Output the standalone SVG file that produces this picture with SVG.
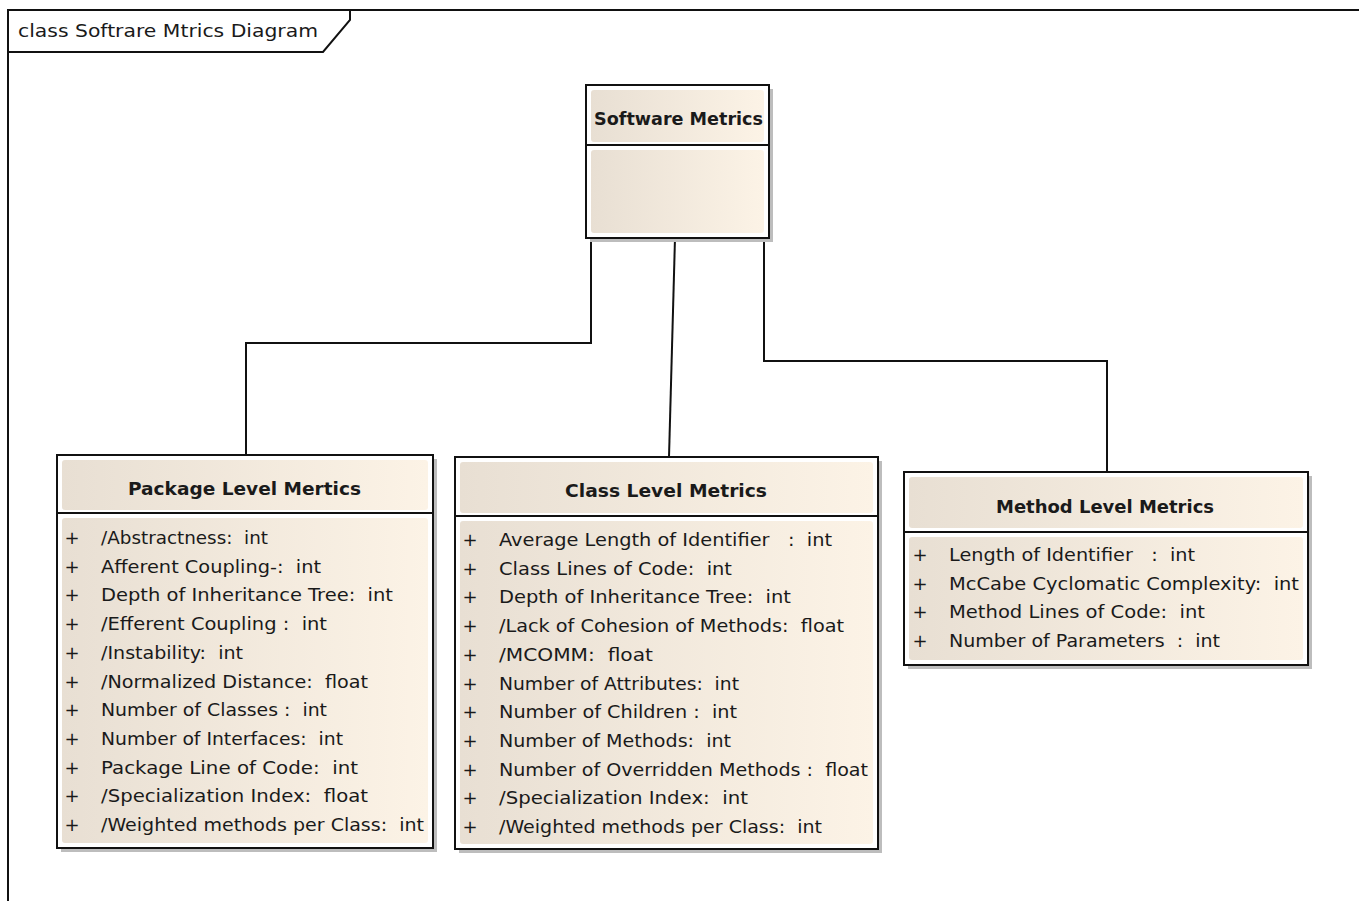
<svg xmlns="http://www.w3.org/2000/svg" width="1359" height="901" viewBox="0 0 1359 901" xml:space="preserve">
<defs>
<linearGradient id="g" x1="0" y1="0" x2="1" y2="0">
<stop offset="0" stop-color="#e8dfd3"/>
<stop offset="1" stop-color="#fcf3e6"/>
</linearGradient>
</defs>
<style>
text{font-family:"DejaVu Sans","Liberation Sans",Arial,sans-serif;fill:#1a1a1a;white-space:pre;}
.t{font-size:17px;font-weight:bold;text-anchor:middle;}
.a{font-size:18px;}
.p{text-anchor:middle;}
.box{fill:#fff;stroke:#111;stroke-width:2;}
.sh{fill:#bdbdbd;}
.in{fill:url(#g);}
.div{stroke:#111;stroke-width:2;}
.c{fill:none;stroke:#111;stroke-width:2;}
</style>
<rect x="0" y="0" width="1359" height="901" fill="#fff"/>
<g id="frame">
<path d="M8,901 V10 H1359" fill="none" stroke="#111" stroke-width="2"/>
<path d="M8,52 H323 L350,20 V10" fill="none" stroke="#111" stroke-width="2"/>
<text x="18" y="37" style="font-size:18px" textLength="300" lengthAdjust="spacingAndGlyphs">class Softrare Mtrics Diagram</text>
</g>
<g id="connectors">
<path class="c" d="M591,238 V343 H246 V455"/>
<path class="c" d="M675,238 L669,457"/>
<path class="c" d="M764,238 V361 H1107 V472"/>
</g>
<g id="software-metrics">
<rect class="sh" x="590" y="89" width="183" height="153"/>
<rect class="box" x="586" y="85" width="183" height="153"/>
<rect class="in" x="591" y="90" width="173" height="52" rx="3"/>
<rect class="in" x="591" y="150" width="173" height="83" rx="3"/>
<line class="div" x1="586" y1="145" x2="769" y2="145"/>
<text class="t" x="678.5" y="125" textLength="169" lengthAdjust="spacingAndGlyphs">Software Metrics</text>
</g>
<g id="package-level">
<rect class="sh" x="61" y="459" width="376" height="393"/>
<rect class="box" x="57" y="455" width="376" height="393"/>
<rect class="in" x="62" y="460" width="366" height="50" rx="3"/>
<rect class="in" x="62" y="518" width="366" height="325" rx="3"/>
<line class="div" x1="57" y1="513" x2="433" y2="513"/>
<text class="t" x="244.5" y="495" textLength="233" lengthAdjust="spacingAndGlyphs">Package Level Mertics</text>
<g class="a">
<text class="p" x="72" y="544">+</text><text x="101" y="544" textLength="167" lengthAdjust="spacingAndGlyphs">/Abstractness:  int</text>
<text class="p" x="72" y="573">+</text><text x="101" y="573" textLength="220" lengthAdjust="spacingAndGlyphs">Afferent Coupling-:  int</text>
<text class="p" x="72" y="601">+</text><text x="101" y="601" textLength="292" lengthAdjust="spacingAndGlyphs">Depth of Inheritance Tree:  int</text>
<text class="p" x="72" y="630">+</text><text x="101" y="630" textLength="226" lengthAdjust="spacingAndGlyphs">/Efferent Coupling :  int</text>
<text class="p" x="72" y="659">+</text><text x="101" y="659" textLength="142" lengthAdjust="spacingAndGlyphs">/Instability:  int</text>
<text class="p" x="72" y="688">+</text><text x="101" y="688" textLength="267" lengthAdjust="spacingAndGlyphs">/Normalized Distance:  float</text>
<text class="p" x="72" y="716">+</text><text x="101" y="716" textLength="226" lengthAdjust="spacingAndGlyphs">Number of Classes :  int</text>
<text class="p" x="72" y="745">+</text><text x="101" y="745" textLength="242" lengthAdjust="spacingAndGlyphs">Number of Interfaces:  int</text>
<text class="p" x="72" y="774">+</text><text x="101" y="774" textLength="257" lengthAdjust="spacingAndGlyphs">Package Line of Code:  int</text>
<text class="p" x="72" y="802">+</text><text x="101" y="802" textLength="267" lengthAdjust="spacingAndGlyphs">/Specialization Index:  float</text>
<text class="p" x="72" y="831">+</text><text x="101" y="831" textLength="323" lengthAdjust="spacingAndGlyphs">/Weighted methods per Class:  int</text>
</g>
</g>
<g id="class-level">
<rect class="sh" x="459" y="461" width="423" height="392"/>
<rect class="box" x="455" y="457" width="423" height="392"/>
<rect class="in" x="460" y="462" width="413" height="51" rx="3"/>
<rect class="in" x="460" y="521" width="413" height="323" rx="3"/>
<line class="div" x1="455" y1="516" x2="878" y2="516"/>
<text class="t" x="666" y="497" textLength="202" lengthAdjust="spacingAndGlyphs">Class Level Metrics</text>
<g class="a">
<text class="p" x="470" y="546">+</text><text x="499" y="546" textLength="333" lengthAdjust="spacingAndGlyphs">Average Length of Identifier   :  int</text>
<text class="p" x="470" y="575">+</text><text x="499" y="575" textLength="233" lengthAdjust="spacingAndGlyphs">Class Lines of Code:  int</text>
<text class="p" x="470" y="603">+</text><text x="499" y="603" textLength="292" lengthAdjust="spacingAndGlyphs">Depth of Inheritance Tree:  int</text>
<text class="p" x="470" y="632">+</text><text x="499" y="632" textLength="345" lengthAdjust="spacingAndGlyphs">/Lack of Cohesion of Methods:  float</text>
<text class="p" x="470" y="661">+</text><text x="499" y="661" textLength="154" lengthAdjust="spacingAndGlyphs">/MCOMM:  float</text>
<text class="p" x="470" y="690">+</text><text x="499" y="690" textLength="240" lengthAdjust="spacingAndGlyphs">Number of Attributes:  int</text>
<text class="p" x="470" y="718">+</text><text x="499" y="718" textLength="238" lengthAdjust="spacingAndGlyphs">Number of Children :  int</text>
<text class="p" x="470" y="747">+</text><text x="499" y="747" textLength="232" lengthAdjust="spacingAndGlyphs">Number of Methods:  int</text>
<text class="p" x="470" y="776">+</text><text x="499" y="776" textLength="369" lengthAdjust="spacingAndGlyphs">Number of Overridden Methods :  float</text>
<text class="p" x="470" y="804">+</text><text x="499" y="804" textLength="249" lengthAdjust="spacingAndGlyphs">/Specialization Index:  int</text>
<text class="p" x="470" y="833">+</text><text x="499" y="833" textLength="323" lengthAdjust="spacingAndGlyphs">/Weighted methods per Class:  int</text>
</g>
</g>
<g id="method-level">
<rect class="sh" x="908" y="476" width="404" height="193"/>
<rect class="box" x="904" y="472" width="404" height="193"/>
<rect class="in" x="909" y="477" width="394" height="51" rx="3"/>
<rect class="in" x="909" y="537" width="394" height="123" rx="3"/>
<line class="div" x1="904" y1="532" x2="1308" y2="532"/>
<text class="t" x="1105" y="513" textLength="218" lengthAdjust="spacingAndGlyphs">Method Level Metrics</text>
<g class="a">
<text class="p" x="920" y="561">+</text><text x="949" y="561" textLength="246" lengthAdjust="spacingAndGlyphs">Length of Identifier   :  int</text>
<text class="p" x="920" y="590">+</text><text x="949" y="590" textLength="350" lengthAdjust="spacingAndGlyphs">McCabe Cyclomatic Complexity:  int</text>
<text class="p" x="920" y="618">+</text><text x="949" y="618" textLength="256" lengthAdjust="spacingAndGlyphs">Method Lines of Code:  int</text>
<text class="p" x="920" y="647">+</text><text x="949" y="647" textLength="271" lengthAdjust="spacingAndGlyphs">Number of Parameters  :  int</text>
</g>
</g>
</svg>
